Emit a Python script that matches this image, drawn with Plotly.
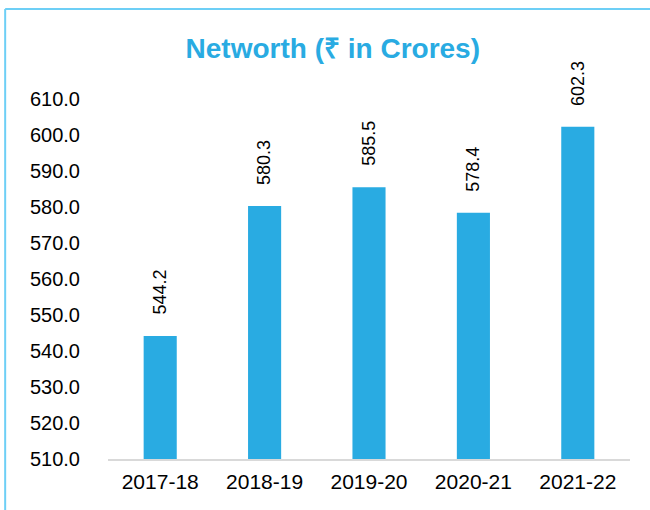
import plotly.graph_objects as go

# data
years = ['2017-18', '2018-19', '2019-20', '2020-21', '2021-22']
networth = [544.2, 580.3, 585.5, 578.4, 602.3]
y_ticks = [510, 520, 530, 540, 550, 560, 570, 580, 590, 600, 610]

bar_color = '#29ABE2'
font_family = 'Liberation Sans, Arial, sans-serif'

fig = go.Figure()
fig.add_trace(go.Bar(
    x=years,
    y=networth,
    marker=dict(color=bar_color, line=dict(width=0)),
    hoverinfo='x+y',
))

# rotated value labels above bars
for yr, v in zip(years, networth):
    fig.add_annotation(
        x=yr, y=v, text=f'{v:.1f}',
        textangle=-90, showarrow=False,
        yanchor='bottom', yshift=19,
        font=dict(size=18, color='#000000', family=font_family),
    )

# partial frame (top and left edges as in the cropped reference)
fig.add_shape(type='line', xref='paper', yref='paper',
              x0=-0.197, x1=1.1, y0=1.25, y1=1.25,
              line=dict(color='#6DCFF6', width=2))
fig.add_shape(type='line', xref='paper', yref='paper',
              x0=-0.197, x1=-0.197, y0=1.25, y1=-0.3,
              line=dict(color='#6DCFF6', width=2))

fig.update_layout(
    width=650, height=510,
    margin=dict(l=108, r=20, t=99, b=51),
    paper_bgcolor='white', plot_bgcolor='white',
    bargap=0.683,
    showlegend=False,
    title=dict(
        text='<b>Networth (₹ in Crores)</b>',
        x=0.512, xanchor='center', y=0.905, yanchor='middle',
        font=dict(size=28, color=bar_color, family=font_family),
    ),
    font=dict(family=font_family, color='#000000'),
    xaxis=dict(
        showgrid=False, showline=True, linecolor='#D9D9D9', linewidth=1.5,
        ticks='', ticklabelstandoff=3,
        tickfont=dict(size=21, color='#000000'),
    ),
    yaxis=dict(
        range=[510, 610], tickvals=y_ticks, tickformat='.1f',
        showgrid=False, zeroline=False, showline=False, ticks='',
        ticklabelstandoff=27,
        tickfont=dict(size=20, color='#000000'),
    ),
)

# drop the default 8px page margin so the figure sits at the window corner
fig.write_html('out.html', config={'displayModeBar': False},
               post_script="document.body.style.margin='0';")
